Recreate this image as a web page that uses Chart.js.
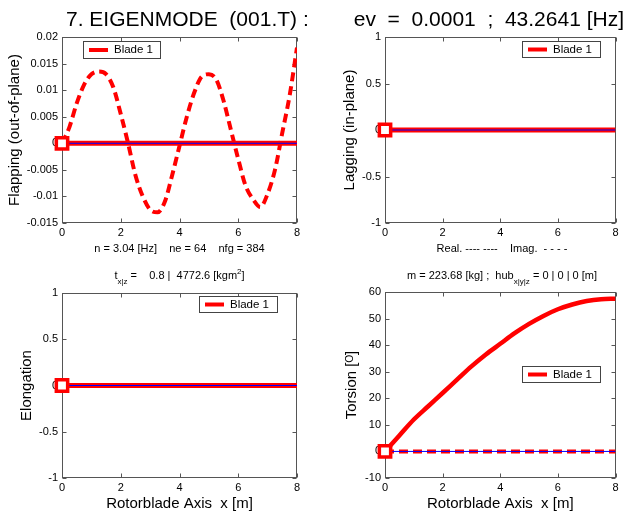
<!DOCTYPE html>
<html><head><meta charset="utf-8">
<script src="https://cdn.jsdelivr.net/npm/chart.js@4/dist/chart.umd.min.js"></script>
<style>
html,body{margin:0;padding:0;background:#fff;}
#wrap{position:relative;width:627px;height:516px;overflow:hidden;font-family:"Liberation Sans",Arial,sans-serif;color:#000;}
canvas{position:absolute;left:0;top:0;}
.t{position:absolute;white-space:pre;line-height:1;}
.s{font-size:8px;position:relative;top:5px;}
.p{font-size:8px;position:relative;top:-5px;}
</style></head><body>
<div id="wrap">
<canvas id="c1" width="627" height="516"></canvas>
<canvas id="c2" width="627" height="516"></canvas>
<canvas id="c3" width="627" height="516"></canvas>
<canvas id="c4" width="627" height="516"></canvas>
<div class="t" style="left:66px;top:8px;font-size:21px;">7. EIGENMODE  (001.T) :</div>
<div class="t" style="right:3px;top:8px;font-size:21px;">ev  =  0.0001  ;  43.2641 [Hz]</div>
<div class="t" style="left:179.5px;top:243px;font-size:11px;transform:translateX(-50%);">n = 3.04 [Hz]    ne = 64    nfg = 384</div>
<div class="t" style="left:502px;top:243px;font-size:11px;transform:translateX(-50%);">Real. ---- ----    Imag.  - - - -</div>
<div class="t" style="left:179.5px;top:270px;font-size:11px;transform:translateX(-50%);">t<span class="s">x|z</span> =    0.8 |  4772.6 [kgm<span class="p">2</span>]</div>
<div class="t" style="left:502px;top:270px;font-size:11px;transform:translateX(-50%);">m = 223.68 [kg] ;  hub<span class="s">x|y|z</span> = 0 | 0 | 0 [m]</div>
</div>
<script>
// ---- data ----
const xTicks = [0, 2, 4, 6, 8];
const flapTicks = [-0.015, -0.01, -0.005, 0, 0.005, 0.01, 0.015, 0.02];
const unitTicks = [-1, -0.5, 0, 0.5, 1];
const torsionTicks = [-10, 0, 10, 20, 30, 40, 50, 60];

const xFlap = [0,0.25,0.5,0.75,1,1.25,1.5,1.75,2,2.25,2.5,2.75,3,3.25,3.5,3.75,4,4.25,4.5,4.75,5,5.25,5.5,5.75,6,6.25,6.5,6.75,7,7.25,7.5,7.75,8];
const flapping = [0,0.003,0.0075,0.011,0.013,0.0135,0.013,0.0105,0.0055,0.0,-0.006,-0.010,-0.0125,-0.013,-0.011,-0.006,-0.0005,0.005,0.0095,0.0125,0.013,0.012,0.008,0.0025,-0.003,-0.008,-0.0105,-0.012,-0.0095,-0.005,0.002,0.009,0.018];

const xTors = [0,0.5,1,1.5,2,2.5,3,3.5,4,4.5,5,5.5,6,6.5,7,7.5,8];
const torsion = [0,6,12,17,22,27,32,36.5,40.5,44.5,48,51,53.5,55.3,56.6,57.3,57.5];

const xEnds = [0, 8];
const zeroVals = [0, 0];
const legendLabel = 'Blade 1';

// ---- helpers ----
const pts = (xs, ys) => xs.map((x, i) => ({x, y: ys[i]}));
const RED = '#ff0000', BLUE = '#0000ff', FRAME = '#555555';
const FONT = '"Liberation Sans", Arial, sans-serif';

const framePlugin = {
  id: 'frame',
  beforeDatasetsDraw(chart) {
    const {ctx, chartArea: a, scales: {x, y}} = chart;
    ctx.save();
    ctx.strokeStyle = FRAME; ctx.lineWidth = 1;
    const L = Math.round(a.left) + 0.5, R = Math.round(a.right) - 0.5;
    const T = Math.round(a.top) + 0.5, B = Math.round(a.bottom) - 0.5;
    ctx.strokeRect(L, T, R - L, B - T);
    ctx.beginPath();
    x.ticks.forEach(t => {
      const p = Math.round(x.getPixelForValue(t.value)) + 0.5;
      ctx.moveTo(p, B); ctx.lineTo(p, B - 4);
      ctx.moveTo(p, T); ctx.lineTo(p, T + 4);
    });
    y.ticks.forEach(t => {
      const p = Math.round(y.getPixelForValue(t.value)) + 0.5;
      ctx.moveTo(L, p); ctx.lineTo(L + 4, p);
      ctx.moveTo(R, p); ctx.lineTo(R - 4, p);
    });
    ctx.stroke();
    ctx.restore();
  }
};

const legendPlugin = {
  id: 'boxLegend',
  afterDraw(chart, args, o) {
    const ctx = chart.ctx;
    ctx.save();
    ctx.fillStyle = '#fff';
    ctx.fillRect(o.x, o.y, o.w, o.h);
    ctx.strokeStyle = '#444'; ctx.lineWidth = 1;
    ctx.strokeRect(o.x + 0.5, o.y + 0.5, o.w, o.h);
    const cy = o.y + o.h / 2 + 0.5;
    ctx.strokeStyle = RED; ctx.lineWidth = 4;
    ctx.beginPath(); ctx.moveTo(o.x + 6, cy); ctx.lineTo(o.x + 25, cy); ctx.stroke();
    ctx.fillStyle = '#000'; ctx.font = '11.5px ' + FONT;
    ctx.textBaseline = 'middle';
    ctx.fillText(o.text, o.x + 31, cy);
    ctx.restore();
  }
};

// drawn top-first: marker, blue line, red line
function zeroSets(dashed) {
  return [
    {data: pts([0], [0]), showLine: false, pointStyle: 'rect', pointRadius: 8, pointBorderWidth: 3.5,
     pointBorderColor: RED, pointBackgroundColor: '#fff', clip: false},
    {data: pts(xEnds, zeroVals), borderColor: BLUE, borderWidth: 1, pointRadius: 0},
    {data: pts(xEnds, zeroVals), borderColor: RED, borderWidth: dashed ? 4 : 5, borderDash: dashed ? [9, 5] : [], pointRadius: 0}
  ];
}

function makeChart(id, c) {
  return new Chart(document.getElementById(id), {
    type: 'line',
    data: {datasets: c.datasets},
    plugins: [framePlugin, legendPlugin],
    options: {
      responsive: false, animation: false, events: [],
      layout: {padding: {left: c.padL, top: c.top, right: 627 - c.right, bottom: 516 - c.bottom - c.xH}},
      plugins: {legend: {display: false}, tooltip: {enabled: false}, boxLegend: c.legend},
      elements: {line: {tension: 0.35, cubicInterpolationMode: 'monotone'}},
      scales: {
        x: {
          type: 'linear', min: 0, max: 8,
          afterBuildTicks: s => { s.ticks = xTicks.map(v => ({value: v})); },
          afterFit: s => { s.height = c.xH; },
          grid: {display: false, drawTicks: false}, border: {display: false},
          ticks: {padding: 3, color: '#000', font: {family: FONT, size: 11}, callback: v => String(v)},
          title: c.xTitle ? {display: true, text: c.xTitle, color: '#000', font: {family: FONT, size: 15}, padding: {top: 0, bottom: 3}} : {display: false}
        },
        y: {
          type: 'linear', min: c.yTicks[0], max: c.yTicks[c.yTicks.length - 1],
          afterBuildTicks: s => { s.ticks = c.yTicks.map(v => ({value: v})); },
          afterFit: s => { s.width = c.yW; },
          grid: {display: false, drawTicks: false}, border: {display: false},
          ticks: {padding: 4, color: '#000', font: {family: FONT, size: 11}, callback: v => String(v)},
          title: {display: true, text: c.yTitle, color: '#000', font: {family: FONT, size: 15}, padding: {top: c.yTitlePad, bottom: 0}}
        }
      }
    }
  });
}

// top-left: flapping
makeChart('c1', {
  padL: 0, yW: 62, top: 37, right: 297, bottom: 223, xH: 20,
  yTicks: flapTicks, yTitle: 'Flapping (out-of-plane)', yTitlePad: 6,
  legend: {x: 83, y: 41, w: 77, h: 17, text: legendLabel},
  datasets: [
    ...zeroSets(false),
    {data: pts(xFlap, flapping), borderColor: RED, borderWidth: 4, borderDash: [9, 5], pointRadius: 0}
  ]
});

// top-right: lagging
makeChart('c2', {
  padL: 320, yW: 65, top: 37, right: 619, bottom: 223, xH: 20,
  yTicks: unitTicks, yTitle: 'Lagging (in-plane)', yTitlePad: 21,
  legend: {x: 522, y: 41, w: 78, h: 16, text: legendLabel},
  datasets: zeroSets(false)
});

// bottom-left: elongation
makeChart('c3', {
  padL: 0, yW: 62, top: 293, right: 297, bottom: 478, xH: 38,
  yTicks: unitTicks, yTitle: 'Elongation', yTitlePad: 18, xTitle: 'Rotorblade Axis  x [m]',
  legend: {x: 199, y: 296, w: 78, h: 16, text: legendLabel},
  datasets: zeroSets(false)
});

// bottom-right: torsion
makeChart('c4', {
  padL: 320, yW: 65, top: 292, right: 619, bottom: 478, xH: 38,
  yTicks: torsionTicks, yTitle: 'Torsion [ᴼ]', yTitlePad: 23, xTitle: 'Rotorblade Axis  x [m]',
  legend: {x: 522, y: 366, w: 78, h: 16, text: legendLabel},
  datasets: [
    ...zeroSets(true),
    {data: pts(xTors, torsion), borderColor: RED, borderWidth: 4.5, pointRadius: 0}
  ]
});
</script>
</body></html>
